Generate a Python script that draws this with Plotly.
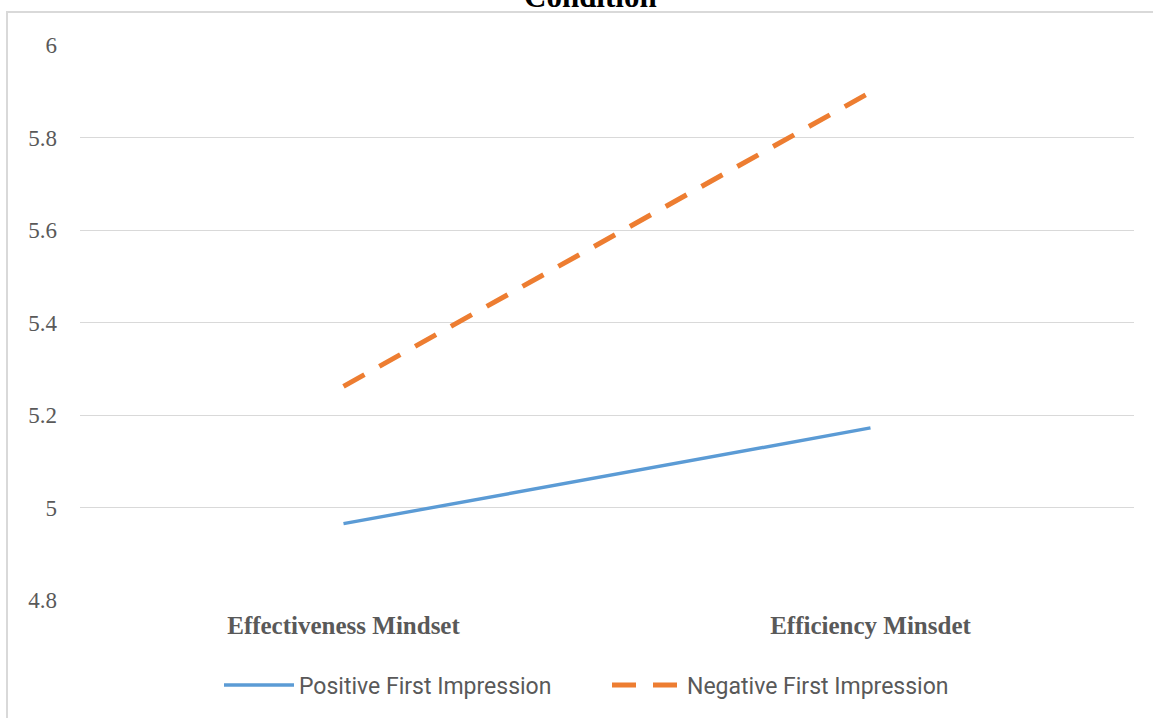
import plotly.graph_objects as go

categories = ["Effectiveness Mindset", "Efficiency Minsdet"]
positive = [4.965, 5.172]
negative = [5.262, 5.898]
y_ticks = [4.8, 5, 5.2, 5.4, 5.6, 5.8, 6]
y_tick_text = ["4.8", "5", "5.2", "5.4", "5.6", "5.8", "6"]
title_text = "Condition"

fig = go.Figure()
fig.add_trace(go.Scatter(x=categories, y=positive, mode="lines",
                         name="Positive First Impression",
                         line=dict(color="#5B9BD5", width=3.4)))
fig.add_trace(go.Scatter(x=categories, y=negative, mode="lines",
                         name="Negative First Impression",
                         line=dict(color="#ED7D31", width=5, dash="24px,17px")))

L, R, T, B = 80, 19, 45, 118
W, H = 1153, 718
pw, ph = W - L - R, H - T - B

def px_x(p):
    return (p - L) / pw

def px_y(p):
    return (H - B - p) / ph

fig.update_layout(
    width=W, height=H,
    margin=dict(l=L, r=R, t=T, b=B),
    paper_bgcolor="white", plot_bgcolor="white",
    showlegend=True,
    legend=dict(orientation="h", x=px_x(219), xanchor="left",
                y=px_y(685), yanchor="middle",
                font=dict(family="Liberation Sans Narrow, Roboto, sans-serif",
                          size=23, color="#595959"),
                entrywidth=303, entrywidthmode="pixels",
                itemwidth=70, tracegroupgap=0),
    xaxis=dict(type="category", range=[-0.5, 1.5], showgrid=False,
               zeroline=False, showline=False, ticks="",
               tickvals=categories,
               ticktext=["<b>" + c + "</b>" for c in categories],
               tickfont=dict(family="Liberation Serif, Times New Roman, serif",
                             size=25, color="#595959"),
               ticklabelstandoff=8),
    yaxis=dict(range=[4.8, 6], tickvals=y_ticks, ticktext=y_tick_text,
               showgrid=True, gridcolor="#d9d9d9", gridwidth=1,
               zeroline=False, showline=False, ticks="",
               tickfont=dict(family="Liberation Serif, Times New Roman, serif",
                             size=23, color="#595959"),
               ticklabelstandoff=22),
)

fig.add_annotation(text="<b>" + title_text + "</b>", xref="paper", yref="paper",
                   x=px_x(590), y=px_y(-4), xanchor="center", yanchor="middle",
                   showarrow=False,
                   font=dict(family="Liberation Serif, Times New Roman, serif",
                             size=31, color="#000000"))

fig.add_shape(type="rect", xref="paper", yref="paper",
              x0=px_x(7), x1=px_x(1170), y0=px_y(740), y1=px_y(12),
              line=dict(color="#d9d9d9", width=2), fillcolor="rgba(0,0,0,0)",
              layer="below")

fig.write_html("out.html", config={"displayModeBar": False},
               post_script="document.body.style.margin='0';")
